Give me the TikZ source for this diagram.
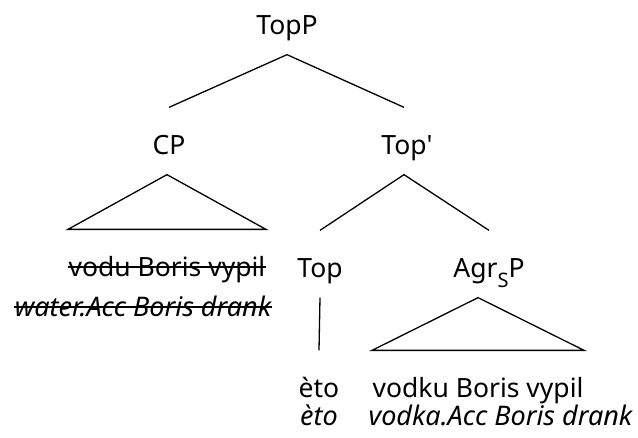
\documentclass[tikz,border=0pt]{standalone}
\usepackage{fontspec}
\setmainfont{Noto Sans}
\usetikzlibrary{positioning}

\begin{document}
\begin{tikzpicture}[x=1pt,y=-1pt,line width=1.3pt,
  every node/.style={font=\fontsize{26.5pt}{30pt}\selectfont,inner xsep=0pt},
  cat/.style={inner ysep=14pt,text height=32pt,text depth=6pt},
  gl/.style={font=\fontsize{27pt}{30pt}\selectfont\itshape}]
 \useasboundingbox (0,0) rectangle (638,437);
 \node[cat,anchor=base] (topp) at (287,34) {TopP};
 \node[cat,anchor=base] (cp) at (169,154) {CP};
 \node[cat,anchor=base] (topb) at (404,154) {Top\rlap{\textquotesingle}};
 \node[cat,anchor=base] (top) at (320,277) {Top};
 \node[cat,anchor=base] (agrp) at (489,277) {Agr\raisebox{-10pt}{\fontsize{20pt}{20pt}\selectfont S}P};
 \node[cat,anchor=base west] (vodu) at (68,276) {vodu Boris vypil};
 \node[gl,anchor=base] (water) at (143,316) {water.Acc Boris drank};
 \node[cat,anchor=base] (eto) at (319,397) {èto};
 \node[gl,anchor=base] (etogl) at (319,425) {èto};
 \node[cat,anchor=base west] (vodku) at (372,397) {vodku Boris vypil};
 \node[gl,anchor=base west] (vodka) at (368,425) {vodka.Acc Boris drank};
 \draw (cp.north)--(topp.south)--(topb.north);
 \draw (top.north)--(topb.south)--(agrp.north);
 \draw (top.south)--(eto.north);
 \draw (vodu.north west)--(vodu.north east)--(vodu.north |- cp.south)--cycle;
 \draw (vodku.north west)--(vodku.north east)--(vodku.north |- agrp.south)--cycle;
 \draw[line width=1.1pt] ([yshift=9pt]vodu.base west)--([yshift=9pt]vodu.base east);
 \draw[line width=1.1pt] ([yshift=9pt]water.base west)--([yshift=9pt]water.base east);
\end{tikzpicture}
\end{document}
